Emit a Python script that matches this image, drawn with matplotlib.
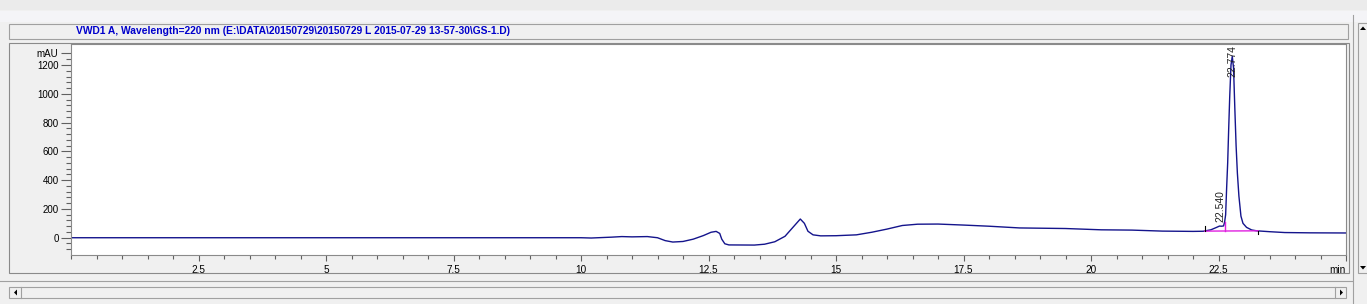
import numpy as np
import matplotlib
matplotlib.use("Agg")
import matplotlib.pyplot as plt
from matplotlib.patches import Rectangle, Polygon
from matplotlib.lines import Line2D
from matplotlib.ticker import FixedLocator, MultipleLocator

plt.rcParams['font.family'] = ['Liberation Sans', 'DejaVu Sans']

W, H = 1367, 304

# ------------------------------------------------------------
# chromatogram trace (min, mAU)
# ------------------------------------------------------------
time_min = [0.0, 10.0, 10.2, 10.4, 10.6, 10.8, 11.0, 11.3, 11.5, 11.65, 11.8,
            12.0, 12.2, 12.4, 12.55, 12.65, 12.72, 12.76, 12.82, 12.9, 13.4,
            13.6, 13.8, 14.0, 14.15, 14.3, 14.38, 14.45, 14.55, 14.7, 15.0,
            15.4, 15.7, 16.0, 16.3, 16.6, 17.0, 17.5, 18.0, 18.6, 19.5, 20.2,
            20.8, 21.4, 22.0, 22.2, 22.35, 22.45, 22.52, 22.56, 22.6, 22.62,
            22.64, 22.66, 22.68, 22.7, 22.72, 22.745, 22.77, 22.795, 22.82,
            22.845, 22.87, 22.9, 22.94, 22.98, 23.05, 23.15, 23.25, 23.5,
            23.8, 24.3, 25.0]
signal_mau = [0, 0, -2, 1, 4, 8, 6, 8, 0, -20, -30,
              -26, -10, 15, 38, 44, 30, -10, -42, -50, -51,
              -45, -28, 10, 70, 130, 100, 45, 20, 13, 14,
              20, 38, 60, 85, 94, 95, 88, 80, 68, 64, 55,
              53, 46, 44, 45, 55, 70, 81, 80, 82, 110,
              160, 350, 520, 760, 980, 1200, 1260, 1180, 900,
              640, 450, 290, 150, 100, 72, 54, 48, 42,
              36, 34, 33]

# integration marks for the 22.5 - 23 min group
baseline_t = [22.23, 23.28]
baseline_v = [46, 48]
drop_t = [22.62, 22.62]
drop_v = [47, 110]
peak_times = [22.540, 22.774]
peak_labels = ['22.540', '22.774']

x_ticks = [2.5, 5, 7.5, 10, 12.5, 15, 17.5, 20, 22.5, 25]
x_tick_labels = ['2.5', '5', '7.5', '10', '12.5', '15', '17.5', '20', '22.5', 'min']
y_ticks = [0, 200, 400, 600, 800, 1000, 1200, 1280]
y_tick_labels = ['0', '200', '400', '600', '800', '1000', '1200', 'mAU']

title = r"VWD1 A, Wavelength=220 nm (E:\DATA\20150729\20150729 L 2015-07-29 13-57-30\GS-1.D)"


def fx(x):
    return x / W


def fy(y):
    return 1 - y / H


fig = plt.figure(figsize=(W / 100, H / 100), dpi=100, facecolor='#f0f0f0')


def box(x0, y0, x1, y1, fc='#f0f0f0', ec='#a0a0a0', lw=0.8):
    fig.add_artist(Rectangle((fx(x0), fy(y1)), (x1 - x0) / W, (y1 - y0) / H,
                             transform=fig.transFigure, fc=fc, ec=ec, lw=lw,
                             zorder=-2))


def line(x0, y0, x1, y1, color='#a0a0a0', lw=0.8):
    fig.add_artist(Line2D([fx(x0), fx(x1)], [fy(y0), fy(y1)],
                          transform=fig.transFigure, color=color, lw=lw,
                          zorder=-1))


def tri(points):
    fig.add_artist(Polygon([(fx(x), fy(y)) for x, y in points], closed=True,
                           transform=fig.transFigure, fc='black', ec='none',
                           zorder=-1))


# window chrome
box(0, 0, W, 10, fc='#ebebeb', ec='none')
box(0, 11, W, 22, fc='#f4f4f7', ec='none')
box(9, 23.5, 1348, 39, ec='#a0a0a0')
box(9, 43, 1349, 273, ec='#8a8a8a')
line(0, 280.5, 1352, 280.5)
line(1352.5, 15, 1352.5, H)
box(9, 287, 1346, 298, ec='#a0a0a0')
line(21, 287, 21, 298)
line(1335, 287, 1335, 298)
tri([(14, 292.5), (17, 289.5), (17, 295.5)])
tri([(1343, 292.5), (1340, 289.5), (1340, 295.5)])
box(1358, 23, 1368, 273, ec='#a0a0a0')
tri([(1363, 26.5), (1360, 30), (1366, 30)])
tri([(1363, 269.5), (1360, 266), (1366, 266)])

fig.text(fx(76), fy(31), title, color='#0000cc', fontsize=7.35, fontweight='bold',
         va='center', ha='left')

# ------------------------------------------------------------
# plot area
# ------------------------------------------------------------
ax = fig.add_axes([fx(71), fy(255), (1346 - 71) / W, (255 - 44) / H])
ax.set_facecolor('white')

ax.plot(time_min, signal_mau, color='#14148c', lw=1.0)
ax.plot(baseline_t, baseline_v, color='#e020e0', lw=1.0)
ax.plot(drop_t, drop_v, color='#e020e0', lw=1.0)
ax.plot([baseline_t[0]] * 2, [baseline_v[0], baseline_v[0] + 35], color='black', lw=0.8)
ax.plot([baseline_t[1]] * 2, [baseline_v[1], baseline_v[1] - 22], color='black', lw=0.8)

ax.text(peak_times[0], 110, peak_labels[0], rotation=90, ha='center', va='bottom',
        fontsize=7.5, color='#222222')
ax.text(peak_times[1], 1338, peak_labels[1], rotation=90, ha='center', va='top',
        fontsize=7.5, color='#222222')

ax.set_xlim(0, 25)
ax.set_ylim(-120, 1346)

ax.xaxis.set_major_locator(FixedLocator(x_ticks))
ax.set_xticklabels(x_tick_labels)
ax.xaxis.set_minor_locator(MultipleLocator(0.5))
ax.yaxis.set_major_locator(FixedLocator(y_ticks))
ax.set_yticklabels(y_tick_labels)
ax.yaxis.set_minor_locator(FixedLocator(np.arange(-80, 1300, 40)))

ax.tick_params(axis='y', which='major', length=7, width=0.8, pad=2,
               labelsize=7, color='#606060')
ax.tick_params(axis='y', which='minor', length=3.5, width=0.8, color='#606060')
ax.tick_params(axis='x', which='major', length=4, width=0.8, pad=3,
               labelsize=7.2, color='#606060')
ax.tick_params(axis='x', which='minor', length=3, width=0.8, color='#606060')

# the unit label sits inside the right edge
ax.get_xticklabels()[-1].set_ha('right')

for s in ax.spines.values():
    s.set_color('#8a8a8a')
    s.set_linewidth(0.8)

fig.savefig('out.png', dpi=100, facecolor=fig.get_facecolor())
